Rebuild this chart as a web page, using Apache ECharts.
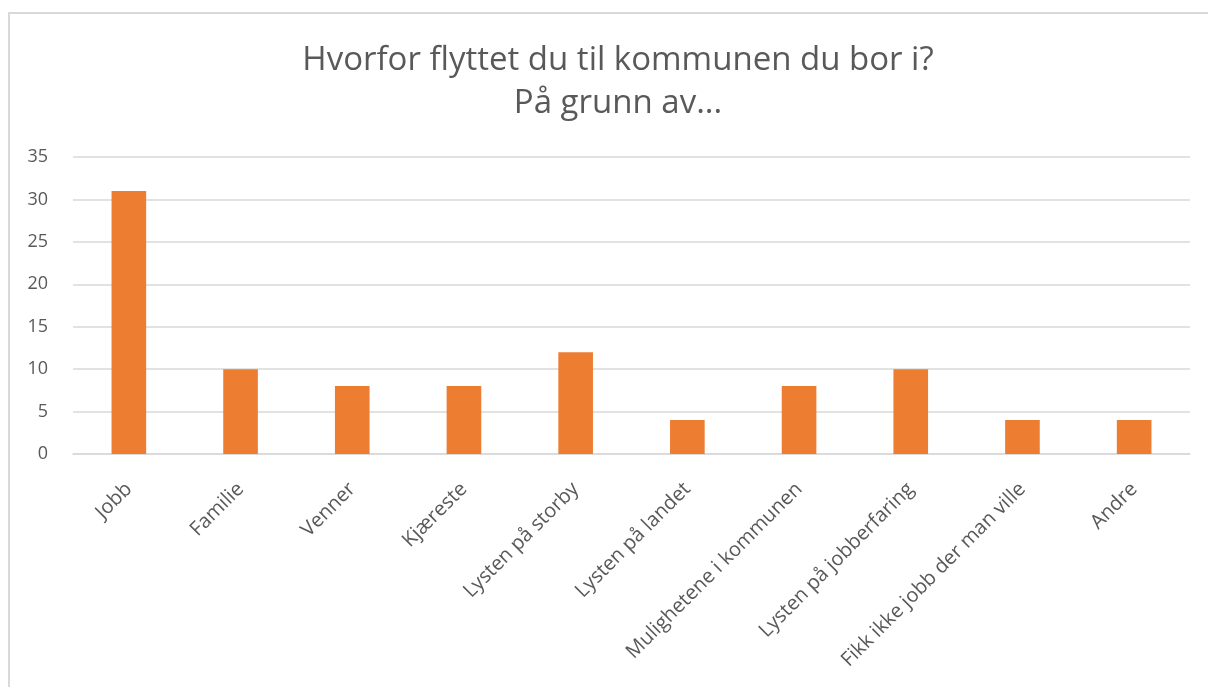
<!DOCTYPE html>
<html>
<head>
<meta charset="utf-8">
<script src="https://cdn.jsdelivr.net/npm/echarts@6/dist/echarts.min.js"></script>
<style>
  html, body { margin: 0; padding: 0; background: #fff; }
  #main { width: 1208px; height: 687px; }
</style>
</head>
<body>
<div id="main"></div>
<script>
// kategorier og verdier
var categories = ['Jobb', 'Familie', 'Venner', 'Kjæreste', 'Lysten på storby',
  'Lysten på landet', 'Mulighetene i kommunen', 'Lysten på jobberfaring',
  'Fikk ikke jobb der man ville', 'Andre'];
var values = [31, 10, 8, 8, 12, 4, 8, 10, 4, 4];
var yTicks = [0, 5, 10, 15, 20, 25, 30, 35];

var fontName = '"Open Sans", Lato, sans-serif';

function drawChart(){
	var myChart = echarts.init(document.getElementById('main'));
	var option = {
		animation: false,
		backgroundColor: '#fff',
		textStyle: { fontFamily: fontName },
		title: {
			text: 'Hvorfor flyttet du til kommunen du bor i?\nPå grunn av...',
			left: 613,
			textAlign: 'center',
			top: 34,
			textStyle: {
				fontFamily: fontName,
				fontSize: 33,
				fontWeight: 'normal',
				color: '#595959',
				lineHeight: 43
			}
		},
		graphic: [{
			type: 'rect',
			shape: { x: 9, y: 13, width: 1250, height: 720 },
			style: { fill: 'none', stroke: '#D9D9D9', lineWidth: 2 },
			silent: true
		}],
		grid: { left: 73, right: 18, top: 157, bottom: 233 },
		xAxis: {
			type: 'category',
			data: categories,
			axisTick: { show: false },
			axisLine: { lineStyle: { color: '#D9D9D9', width: 1.5 } },
			axisLabel: {
				rotate: 45,
				interval: 0,
				margin: 32,
				fontSize: 20,
				color: '#595959',
				fontFamily: fontName
			}
		},
		yAxis: {
			type: 'value',
			min: yTicks[0],
			max: yTicks[yTicks.length - 1],
			interval: 5,
			axisLine: { show: false },
			axisTick: { show: false },
			splitLine: { lineStyle: { color: '#D9D9D9', width: 1.5 } },
			axisLabel: {
				margin: 25,
				fontSize: 18,
				color: '#595959',
				fontFamily: fontName
			}
		},
		series: [{
			type: 'bar',
			data: values,
			barWidth: '31%',
			itemStyle: { color: '#ED7D31' }
		}]
	};
	myChart.setOption(option);
}
drawChart();
</script>
</body>
</html>
